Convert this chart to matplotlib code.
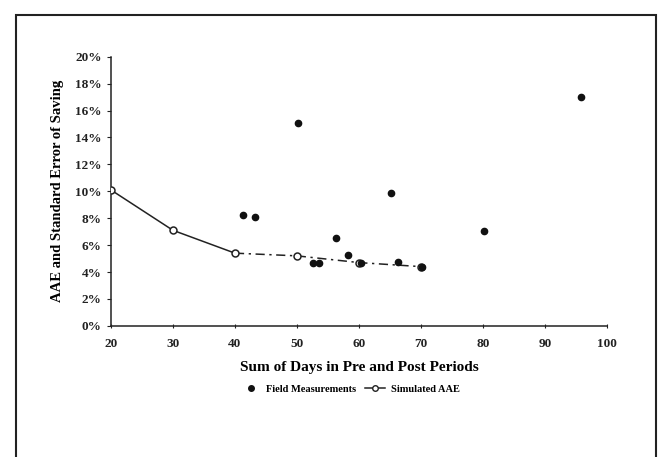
import numpy as np
import matplotlib
matplotlib.use("Agg")
import matplotlib.pyplot as plt
from matplotlib.patches import Rectangle

# field measurements (days, error %)
field_days = [41.3, 43.3, 50.2, 52.5, 53.6, 56.3, 58.3, 60.3, 65.2, 66.2, 70.1, 80.1, 95.8]
field_err = [8.2, 8.1, 15.1, 4.65, 4.65, 6.5, 5.3, 4.7, 9.9, 4.75, 4.4, 7.05, 17.0]

# simulated AAE curve
sim_days = [20, 30, 40, 50, 60, 70]
sim_aae = [10.1, 7.1, 5.4, 5.2, 4.7, 4.4]

x_ticks = [20, 30, 40, 50, 60, 70, 80, 90, 100]
y_ticks = [0, 2, 4, 6, 8, 10, 12, 14, 16, 18, 20]

plt.rcParams['font.family'] = ['Liberation Serif', 'DejaVu Serif']

fig = plt.figure(figsize=(6.6, 4.57), dpi=100)
ax = fig.add_axes([0.168, 0.287, 0.752, 0.589])

# solid part of the curve, then the dashed tail
ax.plot(sim_days[:3], sim_aae[:3], color='#222222', lw=1.1, zorder=2)
ax.plot(sim_days[2:], sim_aae[2:], color='#222222', lw=1.1, dashes=(6, 3, 1.5, 3), zorder=2)
ax.plot(sim_days, sim_aae, ls='none', marker='o', ms=5, mfc='white', mec='#222222', mew=1.1, zorder=3)

ax.plot(field_days, field_err, ls='none', marker='o', ms=4.5, color='#111111', zorder=4)

ax.set_xlim(20, 100)
ax.set_ylim(0, 20)
ax.set_xticks(x_ticks)
ax.set_yticks(y_ticks)
ax.set_yticklabels([f'{v}%' for v in y_ticks])
ax.tick_params(axis='both', labelsize=9.5, length=3, width=0.8, colors='#222222')
ax.tick_params(axis='x', direction='inout', pad=7)
for s in ['top', 'right']:
    ax.spines[s].set_visible(False)
for s in ['left', 'bottom']:
    ax.spines[s].set_color('#222222')
    ax.spines[s].set_linewidth(1.1)

ax.set_xlabel('Sum of Days in Pre and Post Periods', fontsize=11, labelpad=8, fontweight='bold')
ax.set_ylabel('AAE and Standard Error of Saving', fontsize=10.5, labelpad=8, fontweight='bold')
for lab in ax.get_xticklabels() + ax.get_yticklabels():
    lab.set_fontweight('bold')

# legend
h1 = plt.Line2D([], [], ls='none', marker='o', ms=4, color='#111111')
h2 = plt.Line2D([], [], color='#222222', lw=1.1, marker='o', ms=4, mfc='white', mec='#222222')
fig.legend([h1, h2], ['Field Measurements', 'Simulated AAE'], loc='center',
           bbox_to_anchor=(0.53, 0.148), ncol=2, frameon=False,
           prop={'size': 7.5, 'weight': 'bold'}, handlelength=2.0, columnspacing=0.8,
           handletextpad=0.5)

# outer frame of the scanned figure
fig.patches.append(Rectangle((16 / 660, -0.05), 640 / 660, 1.05 - 15 / 457,
                             transform=fig.transFigure, fill=False, lw=1.5,
                             edgecolor='#222222'))

fig.savefig('out.png', dpi=100)
